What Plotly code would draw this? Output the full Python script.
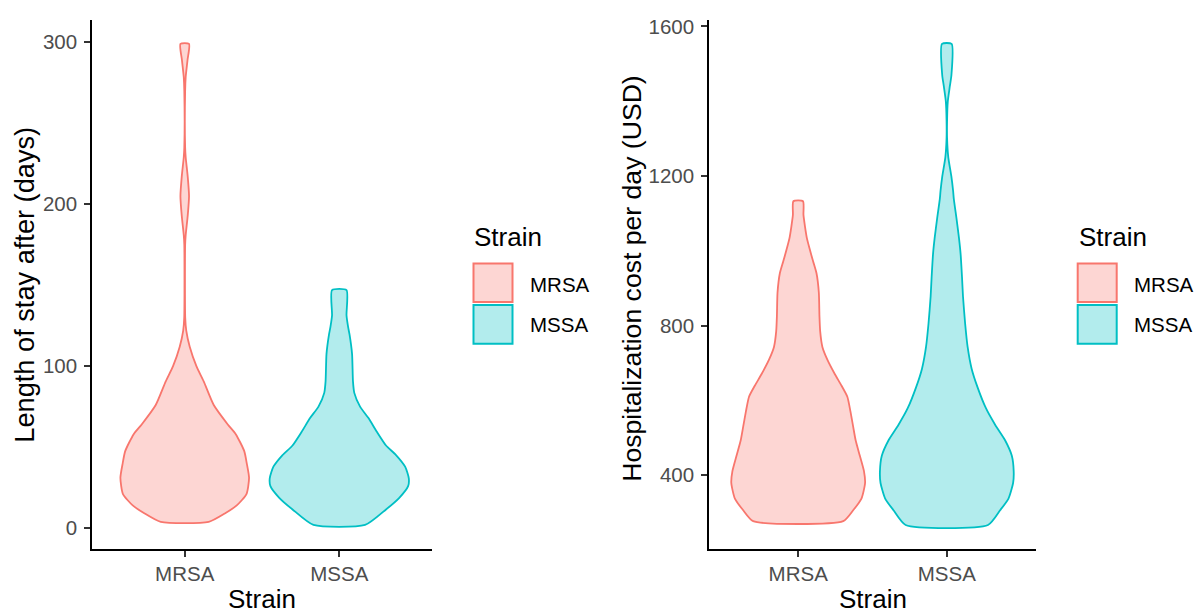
import plotly.graph_objects as go

# ---------------- data ----------------
categories = ["MRSA", "MSSA"]
line_colors = ["#F8766D", "#00BFC4"]
fill_colors = ["rgba(248,118,109,0.3)", "rgba(0,191,196,0.3)"]

# Panel 1: Length of stay after (days) -- violin profiles (y level, relative density width)
stay_mrsa_y = [3.8, 9, 14, 21, 31, 40, 47.5, 58, 64, 76, 90.6, 100, 112, 122, 130,
               175, 181, 193, 205, 217, 229, 235, 270, 278.6, 289, 299]
stay_mrsa_w = [0.345, 0.576, 0.748, 0.888, 0.925, 0.892, 0.856, 0.734, 0.619, 0.417,
               0.273, 0.168, 0.072, 0.022, 0.007, 0.006, 0.014, 0.043, 0.062, 0.043,
               0.014, 0.006, 0.006, 0.014, 0.040, 0.062]
stay_mssa_y = [1.9, 11.5, 18.7, 25.9, 30.7, 37.9, 45.1, 51, 59.5, 67.9, 75, 83.5,
               90.6, 107.4, 119.4, 124.2, 131.4, 147]
stay_mssa_w = [0.371, 0.672, 0.863, 0.990, 1.0, 0.947, 0.816, 0.672, 0.540, 0.420,
               0.299, 0.216, 0.197, 0.184, 0.148, 0.127, 0.104, 0.104]

# Panel 2: Hospitalization cost per day (USD)
cost_mrsa_y = [277.5, 306.6, 337.8, 379.4, 410.5, 452, 493.6, 530, 570, 610, 640, 670,
               709, 743, 784.5, 826, 888, 940, 971.5, 1002.7, 1034, 1065, 1096, 1132.5]
cost_mrsa_w = [0.673, 0.822, 0.946, 1.0, 0.984, 0.922, 0.859, 0.822, 0.782, 0.735,
               0.647, 0.549, 0.436, 0.362, 0.329, 0.318, 0.309, 0.274, 0.224, 0.175,
               0.130, 0.102, 0.079, 0.072]
cost_mssa_y = [267.2, 306.6, 337.8, 379.4, 410.5, 452, 493.6, 535.2, 580, 635, 685, 743,
               805, 878, 930, 992, 1034, 1086, 1138, 1160, 1200, 1250, 1300, 1350, 1400,
               1440, 1470, 1553]
cost_mssa_w = [0.616, 0.797, 0.922, 0.991, 1.0, 0.972, 0.871, 0.722, 0.583, 0.460,
               0.371, 0.311, 0.274, 0.242, 0.227, 0.206, 0.182, 0.145, 0.105, 0.094,
               0.067, 0.022, 0.004, 0.004, 0.015, 0.045, 0.069, 0.072]

stay_ticks = [0, 100, 200, 300]
cost_ticks = [400, 800, 1200, 1600]

# ---------------- figure ----------------
W, H = 1199, 614
FONT = "Liberation Sans, Arial, sans-serif"
HALF = 0.45  # ggplot violin width 0.9


def violin_path(center, ys, ws):
    xs = [center - HALF * w for w in ws] + [center + HALF * w for w in reversed(ws)]
    yy = list(ys) + list(reversed(ys))
    xs.append(xs[0])
    yy.append(yy[0])
    return xs, yy


fig = go.Figure()

panels = [
    ("x", "y", [(stay_mrsa_y, stay_mrsa_w), (stay_mssa_y, stay_mssa_w)]),
    ("x2", "y2", [(cost_mrsa_y, cost_mrsa_w), (cost_mssa_y, cost_mssa_w)]),
]
for xa, ya, series in panels:
    for i, (ys, ws) in enumerate(series):
        xs, yy = violin_path(i + 1, ys, ws)
        fig.add_trace(go.Scatter(
            x=xs, y=yy, xaxis=xa, yaxis=ya, mode="lines", fill="toself",
            fillcolor=fill_colors[i],
            line=dict(color=line_colors[i], width=1.8, shape="spline", smoothing=0.6),
            showlegend=False, hoverinfo="skip", name=categories[i]))


def ext_range(vals):
    lo, hi = min(vals), max(vals)
    pad = (hi - lo) * 0.05
    return [lo - pad, hi + pad]


stay_range = ext_range(stay_mrsa_y + stay_mssa_y)
cost_range = ext_range(cost_mrsa_y + cost_mssa_y)

ydom = [(H - 548.5) / H, (H - 15) / H]
common_x = dict(range=[0.4, 2.6], tickvals=[1, 2], ticktext=categories,
                showline=True, linecolor="black", linewidth=1.6, ticks="outside",
                ticklen=6, tickwidth=1.6, tickcolor="#333333", showgrid=False,
                zeroline=False, tickfont=dict(family=FONT, size=20.5, color="#4D4D4D"))
common_y = dict(showline=True, linecolor="black", linewidth=1.6, ticks="outside",
                ticklen=6, tickwidth=1.6, tickcolor="#333333", showgrid=False,
                zeroline=False, tickfont=dict(family=FONT, size=20.5, color="#4D4D4D"),
                domain=ydom, ticklabelstandoff=3)

fig.update_layout(
    width=W, height=H, margin=dict(l=0, r=0, t=0, b=0),
    paper_bgcolor="white", plot_bgcolor="white", showlegend=False,
    xaxis=dict(domain=[92 / W, 432 / W], anchor="y", **common_x),
    yaxis=dict(range=stay_range, tickvals=stay_ticks, anchor="x", **common_y),
    xaxis2=dict(domain=[709 / W, 1036 / W], anchor="y2", **common_x),
    yaxis2=dict(range=cost_range, tickvals=cost_ticks, anchor="x2", **common_y),
)


def px(x, y):
    return x / W, 1 - y / H


ann = []
# axis titles
for (x, y, txt, ang, sz) in [
    (25, 282, "Length of stay after (days)", -90, 27.2),
    (632, 276, "Hospitalization cost per day (USD)", -90, 26.6),
    (262, 599, "Strain", 0, 26),
    (872.5, 599, "Strain", 0, 26),
]:
    ax, ay = px(x, y)
    ann.append(dict(x=ax, y=ay, xref="paper", yref="paper", text=txt, showarrow=False,
                    textangle=ang, xanchor="center", yanchor="middle",
                    font=dict(family=FONT, size=sz, color="black")))

# legends (drawn manually, ggplot style)
shapes = []
for lx, keyx, labx in [(472.3, 473.5, 528.3), (1077.3, 1077.7, 1131.7)]:
    ax, ay = px(lx, 234)
    ann.append(dict(x=ax, y=ay, xref="paper", yref="paper", text="Strain", showarrow=False,
                    xanchor="left", yanchor="middle",
                    font=dict(family=FONT, size=26, color="black")))
    for i, (ky0, ky1, ly) in enumerate([(260.5, 299.5, 281.5), (302.5, 341.5, 322.5)]):
        x0, y1 = px(keyx, ky0)
        x1, y0 = px(keyx + 39, ky1)
        shapes.append(dict(type="rect", xref="paper", yref="paper", x0=x0, x1=x1,
                           y0=y0, y1=y1, fillcolor=fill_colors[i],
                           line=dict(color=line_colors[i], width=2)))
        ax, ay = px(labx, ly)
        ann.append(dict(x=ax, y=ay, xref="paper", yref="paper", text=categories[i],
                        showarrow=False, xanchor="left", yanchor="middle",
                        font=dict(family=FONT, size=20.5, color="black")))

fig.update_layout(annotations=ann, shapes=shapes)
fig.write_html("out.html", config={"displayModeBar": False},
               post_script="document.body.style.margin='0px';document.body.style.overflow='hidden';")
